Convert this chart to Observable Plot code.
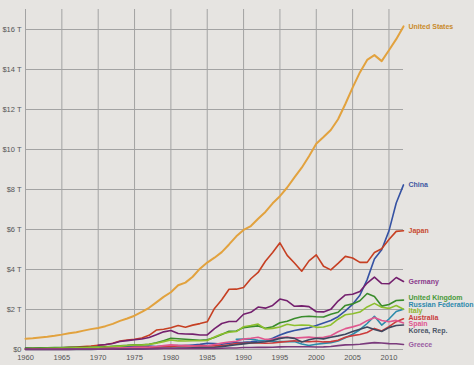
<!DOCTYPE html>
<html>
<head>
<meta charset="utf-8">
<script src="https://cdn.jsdelivr.net/npm/d3@7"></script>
<script src="https://cdn.jsdelivr.net/npm/@observablehq/plot@0.6"></script>
<style>
  html, body { margin: 0; padding: 0; background: #e6e4e1; }
  #chart { width: 474px; height: 365px; }
  svg { display: block; }
</style>
</head>
<body>
<div id="chart"></div>
<script>
// GDP, current US$, trillions
const countries = ["United States", "China", "Japan", "Germany", "United Kingdom",
  "Russian Federation", "Italy", "Australia", "Spain", "Korea, Rep.", "Greece"];
const startYears = [1960, 1960, 1960, 1970, 1960, 1989, 1960, 1960, 1960, 1960, 1960];
const lineColors = ["#e2a23e", "#3552a3", "#c63f22", "#74206e", "#3a8c2c",
  "#2b8bab", "#8dbf2e", "#cc3b3b", "#e0568e", "#3e4760", "#7a3a7c"];
const labelColors = ["#c98b2c", "#3d57a2", "#c84b30", "#8a3b8c", "#4a9a3a",
  "#2d89ad", "#8fb52f", "#c93d3d", "#e0568e", "#4f5869", "#9a5ca2"];

const usGdp = [0.543, 0.563, 0.605, 0.638, 0.686, 0.744, 0.815, 0.862, 0.943, 1.019,
  1.075, 1.167, 1.282, 1.429, 1.549, 1.689, 1.878, 2.086, 2.357, 2.632,
  2.863, 3.211, 3.345, 3.638, 4.041, 4.347, 4.590, 4.870, 5.253, 5.658,
  5.980, 6.174, 6.539, 6.879, 7.309, 7.664, 8.100, 8.609, 9.089, 9.661,
  10.285, 10.622, 10.978, 11.511, 12.275, 13.094, 13.856, 14.478, 14.719, 14.419,
  14.964, 15.518, 16.155];
const chinaGdp = [0.0597, 0.0500, 0.0472, 0.0507, 0.0597, 0.0704, 0.0767, 0.0729, 0.0709, 0.0797,
  0.0916, 0.0986, 0.1122, 0.1368, 0.1422, 0.1617, 0.1517, 0.1725, 0.1485, 0.1766,
  0.1894, 0.1941, 0.2032, 0.2282, 0.2573, 0.3070, 0.2977, 0.2703, 0.3095, 0.3440,
  0.3566, 0.3794, 0.4227, 0.4405, 0.5592, 0.7280, 0.8561, 0.9527, 1.0195, 1.0833,
  1.1985, 1.3248, 1.4538, 1.6410, 1.9316, 2.2569, 2.7130, 3.4941, 4.5213, 4.9913,
  5.9305, 7.3219, 8.2296];
const japanGdp = [0.0443, 0.0537, 0.0605, 0.0695, 0.0817, 0.0910, 0.1056, 0.1237, 0.1469, 0.1720,
  0.2094, 0.2362, 0.3128, 0.4247, 0.4719, 0.5123, 0.5764, 0.7093, 0.9730, 1.0145,
  1.0869, 1.2017, 1.1167, 1.2186, 1.2951, 1.3854, 2.0513, 2.4852, 3.0155, 3.0171,
  3.1038, 3.5367, 3.8529, 4.4149, 4.8507, 5.3339, 4.7063, 4.3241, 3.9146, 4.4326,
  4.7313, 4.1598, 3.9809, 4.3029, 4.6558, 4.5719, 4.3568, 4.3563, 4.8492, 5.0351,
  5.4954, 5.9056, 5.9378];
const germanyGdp = [0.2157, 0.2494, 0.2996, 0.3985, 0.4456, 0.4886, 0.5223, 0.6027, 0.7410, 0.8815,
  0.9500, 0.8000, 0.7767, 0.7706, 0.7256, 0.7321, 1.0463, 1.2999, 1.4017, 1.3982,
  1.7649, 1.8611, 2.1234, 2.0685, 2.2057, 2.5224, 2.4328, 2.1616, 2.1799, 2.1445,
  1.8865, 1.8804, 2.0067, 2.4236, 2.7260, 2.7664, 2.9028, 3.3237, 3.6234, 3.2985,
  3.2843, 3.6010, 3.4000];
const ukGdp = [0.0724, 0.0770, 0.0810, 0.0865, 0.0941, 0.1010, 0.1077, 0.1114, 0.1043, 0.1124,
  0.1248, 0.1398, 0.1606, 0.1864, 0.2063, 0.2412, 0.2322, 0.2631, 0.3358, 0.4383,
  0.5641, 0.5403, 0.5152, 0.4894, 0.4610, 0.4893, 0.6013, 0.7455, 0.9103, 0.9263,
  1.0935, 1.1425, 1.1791, 1.0610, 1.1400, 1.3353, 1.4090, 1.5510, 1.6375, 1.6655,
  1.6356, 1.6228, 1.7671, 1.8640, 2.2030, 2.2800, 2.4400, 2.8000, 2.6500, 2.1700,
  2.2500, 2.4500, 2.4700];
const russiaGdp = [0.5066, 0.5168, 0.5178, 0.4603, 0.4350, 0.3951, 0.3955, 0.3917, 0.4049, 0.2709,
  0.1959, 0.2597, 0.3066, 0.3451, 0.4303, 0.5910, 0.7640, 0.9899, 1.2997, 1.6608,
  1.2227, 1.5249, 1.8993, 2.0148];
const italyGdp = [0.0402, 0.0448, 0.0502, 0.0578, 0.0632, 0.0679, 0.0735, 0.0810, 0.0878, 0.0973,
  0.1137, 0.1239, 0.1443, 0.1698, 0.1998, 0.2275, 0.2255, 0.2572, 0.3152, 0.3928,
  0.4757, 0.4290, 0.4251, 0.4412, 0.4369, 0.4488, 0.6225, 0.7792, 0.8617, 0.8968,
  1.1385, 1.2007, 1.2729, 1.0254, 1.0555, 1.1266, 1.2593, 1.1998, 1.2260, 1.2102,
  1.1073, 1.1237, 1.2253, 1.5146, 1.7357, 1.7867, 1.8725, 2.1271, 2.3072, 2.1117,
  2.0552, 2.1967, 2.0134];
const australiaGdp = [0.0186, 0.0197, 0.0199, 0.0215, 0.0237, 0.0259, 0.0273, 0.0304, 0.0322, 0.0362,
  0.0412, 0.0452, 0.0517, 0.0638, 0.0882, 0.0972, 0.1050, 0.1107, 0.1183, 0.1342,
  0.1498, 0.1766, 0.1930, 0.1767, 0.1930, 0.1808, 0.1821, 0.1894, 0.2356, 0.2994,
  0.3109, 0.3257, 0.3257, 0.3115, 0.3227, 0.3681, 0.4011, 0.4350, 0.3990, 0.3889,
  0.4155, 0.3789, 0.3949, 0.4666, 0.6116, 0.6932, 0.7477, 0.8533, 1.0552, 0.9270,
  1.1424, 1.3905, 1.5326];
const spainGdp = [0.0120, 0.0139, 0.0160, 0.0191, 0.0215, 0.0248, 0.0289, 0.0323, 0.0319, 0.0364,
  0.0405, 0.0460, 0.0559, 0.0728, 0.0889, 0.1049, 0.1078, 0.1213, 0.1442, 0.1934,
  0.2308, 0.2041, 0.1956, 0.1715, 0.1729, 0.1799, 0.2507, 0.3176, 0.3751, 0.4148,
  0.5208, 0.5599, 0.6124, 0.5047, 0.5108, 0.5970, 0.6240, 0.5695, 0.5927, 0.6186,
  0.5803, 0.6087, 0.6868, 0.8838, 1.0446, 1.1309, 1.2362, 1.4417, 1.6015, 1.4541,
  1.3872, 1.4547, 1.3227];
const koreaGdp = [0.0040, 0.0021, 0.0023, 0.0027, 0.0029, 0.0031, 0.0038, 0.0047, 0.0060, 0.0076,
  0.0090, 0.0099, 0.0109, 0.0139, 0.0195, 0.0218, 0.0296, 0.0381, 0.0516, 0.0646,
  0.0643, 0.0720, 0.0776, 0.0872, 0.0966, 0.1007, 0.1148, 0.1434, 0.1924, 0.2363,
  0.2793, 0.3253, 0.3503, 0.3862, 0.4554, 0.5565, 0.5981, 0.5578, 0.3744, 0.4852,
  0.5618, 0.5329, 0.6091, 0.6806, 0.7650, 0.8983, 1.0116, 1.1227, 1.0021, 0.9019,
  1.0944, 1.2025, 1.2228];
const greeceGdp = [0.0045, 0.0051, 0.0053, 0.0059, 0.0067, 0.0077, 0.0086, 0.0093, 0.0101, 0.0116,
  0.0131, 0.0146, 0.0169, 0.0223, 0.0254, 0.0284, 0.0318, 0.0363, 0.0444, 0.0545,
  0.0562, 0.0521, 0.0545, 0.0498, 0.0484, 0.0478, 0.0562, 0.0651, 0.0746, 0.0779,
  0.0970, 0.1020, 0.1119, 0.1048, 0.1104, 0.1316, 0.1377, 0.1363, 0.1370, 0.1369,
  0.1254, 0.1296, 0.1465, 0.1930, 0.2301, 0.2405, 0.2614, 0.3055, 0.3418, 0.3214,
  0.2945, 0.2898, 0.2491];

const seriesValues = [usGdp, chinaGdp, japanGdp, germanyGdp, ukGdp, russiaGdp,
  italyGdp, australiaGdp, spainGdp, koreaGdp, greeceGdp];

const yTicks = [0, 2, 4, 6, 8, 10, 12, 14, 16];
const xTicks = [1960, 1965, 1970, 1975, 1980, 1985, 1990, 1995, 2000, 2005, 2010];

// long table
const rows = [];
countries.forEach((c, i) => {
  seriesValues[i].forEach((v, j) => rows.push({country: c, year: startYears[i] + j, value: v}));
});

// end labels with simple cluster dodge (in data units)
const gap = 0.33;
const ends = countries.map((c, i) => {
  const vals = seriesValues[i];
  return {country: c, year: startYears[i] + vals.length - 1, target: vals[vals.length - 1], color: labelColors[i]};
}).sort((a, b) => a.target - b.target);
let clusters = [];
const pos = cl => { const n = cl.items.length, c = cl.sum / n; return {bottom: c - (n - 1) * gap / 2, top: c + (n - 1) * gap / 2}; };
for (const e of ends) {
  clusters.push({items: [e], sum: e.target});
  while (clusters.length > 1) {
    const cur = clusters[clusters.length - 1], prev = clusters[clusters.length - 2];
    if (pos(prev).top + gap > pos(cur).bottom) {
      prev.items = prev.items.concat(cur.items); prev.sum += cur.sum; clusters.pop();
    } else break;
  }
}
for (const cl of clusters) {
  const n = cl.items.length, c = cl.sum / n;
  cl.items.forEach((e, k) => e.ly = c - (n - 1) * gap / 2 + k * gap);
}

const chart = Plot.plot({
  width: 474,
  height: 365,
  marginLeft: 25,
  marginRight: 71,
  marginTop: 9,
  marginBottom: 16,
  style: {background: "#e6e4e1", fontFamily: "'Liberation Sans', Arial, sans-serif", fontSize: "8px"},
  x: {domain: [1960, 2012], label: null},
  y: {domain: [0, 17], label: null},
  color: {domain: countries, range: lineColors},
  marks: [
    Plot.gridX(xTicks, {stroke: "#a3a3a3", strokeOpacity: 1}),
    Plot.gridY(yTicks, {stroke: "#a3a3a3", strokeOpacity: 1}),
    Plot.axisX(xTicks, {tickSize: 0, tickPadding: 5, tickFormat: d => String(d), fill: "#555", fontSize: 7.5, label: null}),
    Plot.axisY(yTicks, {tickSize: 0, tickPadding: 4, tickFormat: d => d === 0 ? "$0" : `$${d} T`, fill: "#555", fontSize: 7.5, label: null}),
    Plot.line(rows, {x: "year", y: "value", z: "country", stroke: "country", strokeWidth: d => d.country === "United States" ? 2 : 1.6}),
    Plot.text(ends, {x: "year", y: "ly", text: "country", fill: "color", dx: 5, textAnchor: "start", fontWeight: "bold", fontSize: 7})
  ]
});
document.getElementById("chart").append(chart);
</script>
</body>
</html>
